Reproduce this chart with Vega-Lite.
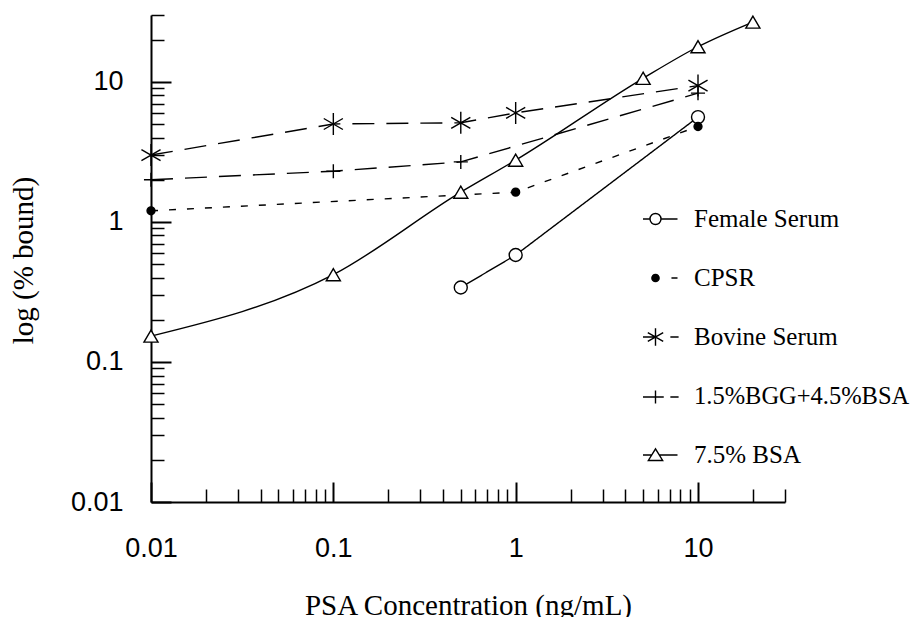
{
  "$schema": "https://vega.github.io/schema/vega-lite/v6.json",
  "width": 634,
  "height": 487,
  "autosize": {"type": "none"},
  "padding": {"left": 151, "top": 15, "right": 129, "bottom": 115},
  "background": "white",
  "config": {"view": {"stroke": null}},
  "data": {
    "values": [
      {"series": "Female Serum", "x": 0.5, "y": 0.34},
      {"series": "Female Serum", "x": 1, "y": 0.58},
      {"series": "Female Serum", "x": 10, "y": 5.6},
      {"series": "CPSR", "x": 0.01, "y": 1.2},
      {"series": "CPSR", "x": 1, "y": 1.63},
      {"series": "CPSR", "x": 10, "y": 4.8},
      {"series": "Bovine Serum", "x": 0.01, "y": 3.0},
      {"series": "Bovine Serum", "x": 0.1, "y": 5.0},
      {"series": "Bovine Serum", "x": 0.5, "y": 5.1},
      {"series": "Bovine Serum", "x": 1, "y": 6.0},
      {"series": "Bovine Serum", "x": 10, "y": 9.4},
      {"series": "1.5%BGG+4.5%BSA", "x": 0.01, "y": 2.0},
      {"series": "1.5%BGG+4.5%BSA", "x": 0.1, "y": 2.3},
      {"series": "1.5%BGG+4.5%BSA", "x": 0.5, "y": 2.68},
      {"series": "1.5%BGG+4.5%BSA", "x": 10, "y": 8.3},
      {"series": "7.5% BSA", "x": 0.01, "y": 0.153},
      {"series": "7.5% BSA", "x": 0.1, "y": 0.42},
      {"series": "7.5% BSA", "x": 0.5, "y": 1.63},
      {"series": "7.5% BSA", "x": 1, "y": 2.76},
      {"series": "7.5% BSA", "x": 5, "y": 10.6},
      {"series": "7.5% BSA", "x": 10, "y": 17.8},
      {"series": "7.5% BSA", "x": 20, "y": 26.7}
    ]
  },
  "layer": [
    {
      "transform": [{"filter": "datum.series !== '7.5% BSA'"}],
      "mark": {"type": "line", "interpolate": "linear", "strokeWidth": 1.4, "color": "black"},
      "encoding": {
        "x": {
          "field": "x", "type": "quantitative",
          "scale": {"type": "log", "domain": [0.01, 30], "nice": false},
          "axis": {
            "orient": "bottom",
            "values": [0.01, 0.1, 1, 10], "format": "~g", "grid": false,
            "domain": true, "domainColor": "black", "domainWidth": 2,
            "ticks": true, "tickSize": -20, "tickWidth": 2, "tickColor": "black",
            "labelFont": "Liberation Sans", "labelFontSize": 27, "labelColor": "black",
            "labelPadding": 53, "labelFlush": false, "labelBaseline": "top",
            "title": "PSA Concentration (ng/mL)",
            "titleFont": "Liberation Serif", "titleFontSize": 29, "titleFontWeight": "normal",
            "titleColor": "black", "titleBaseline": "alphabetic", "titleY": 112
          }
        },
        "y": {
          "field": "y", "type": "quantitative",
          "scale": {"type": "log", "domain": [0.01, 30], "nice": false},
          "axis": {
            "orient": "left",
            "values": [0.01, 0.1, 1, 10], "format": "~g", "grid": false,
            "domain": true, "domainColor": "black", "domainWidth": 2,
            "ticks": true, "tickSize": -20, "tickWidth": 2, "tickColor": "black",
            "labelFont": "Liberation Sans", "labelFontSize": 27, "labelColor": "black",
            "labelPadding": 48, "labelFlush": false,
            "title": "log (% bound)",
            "titleFont": "Liberation Serif", "titleFontSize": 29, "titleFontWeight": "normal",
            "titleColor": "black", "titleBaseline": "alphabetic", "titleAlign": "center",
            "titleAngle": 270, "titleX": -119, "titleY": 245
          }
        },
        "strokeDash": {
          "field": "series", "type": "nominal",
          "scale": {
            "domain": ["Female Serum", "CPSR", "Bovine Serum", "1.5%BGG+4.5%BSA"],
            "range": [[1, 0], [7, 11], [22, 12], [22, 12]]
          },
          "legend": null
        }
      }
    },
    {
      "transform": [{"filter": "datum.series === '7.5% BSA'"}],
      "mark": {"type": "line", "interpolate": "monotone", "strokeWidth": 1.4, "color": "black"},
      "encoding": {
        "x": {"field": "x", "type": "quantitative", "scale": {"type": "log", "domain": [0.01, 30], "nice": false}, "axis": null},
        "y": {"field": "y", "type": "quantitative", "scale": {"type": "log", "domain": [0.01, 30], "nice": false}, "axis": null}
      }
    },
    {
      "mark": {"type": "point", "filled": true, "stroke": "black", "strokeWidth": 1.4, "opacity": 1, "size": 484},
      "encoding": {
        "x": {
          "field": "x", "type": "quantitative",
          "scale": {"type": "log", "domain": [0.01, 30], "nice": false},
          "axis": {
            "orient": "bottom",
            "values": [0.02, 0.03, 0.04, 0.05, 0.06, 0.07, 0.08, 0.09, 0.2, 0.3, 0.4, 0.5, 0.6, 0.7, 0.8, 0.9, 2, 3, 4, 5, 6, 7, 8, 9, 20, 30],
            "labels": false, "domain": false, "grid": false,
            "ticks": true, "tickSize": -13, "tickWidth": 1.5, "tickColor": "black",
            "title": null
          }
        },
        "y": {
          "field": "y", "type": "quantitative",
          "scale": {"type": "log", "domain": [0.01, 30], "nice": false},
          "axis": {
            "orient": "left",
            "values": [0.02, 0.03, 0.04, 0.05, 0.06, 0.07, 0.08, 0.09, 0.2, 0.3, 0.4, 0.5, 0.6, 0.7, 0.8, 0.9, 2, 3, 4, 5, 6, 7, 8, 9, 20, 30],
            "labels": false, "domain": false, "grid": false,
            "ticks": true, "tickSize": -13, "tickWidth": 1.5, "tickColor": "black",
            "title": null
          }
        },
        "shape": {
          "field": "series", "type": "nominal",
          "scale": {
            "domain": ["7.5% BSA", "Female Serum", "CPSR", "Bovine Serum", "1.5%BGG+4.5%BSA"],
            "range": [
              "M0,-0.55L-0.64,0.55L0.64,0.55Z",
              "M-0.59,0A0.59,0.59 0 1,1 0.59,0A0.59,0.59 0 1,1 -0.59,0Z",
              "M-0.36,0A0.36,0.36 0 1,1 0.36,0A0.36,0.36 0 1,1 -0.36,0Z",
              "M0,-1V1M-0.87,-0.5L0.87,0.5M-0.87,0.5L0.87,-0.5",
              "M-0.64,0H0.64M0,-0.64V0.64"
            ]
          },
          "legend": null
        },
        "fill": {
          "field": "series", "type": "nominal",
          "scale": {
            "domain": ["CPSR", "Female Serum", "Bovine Serum", "1.5%BGG+4.5%BSA", "7.5% BSA"],
            "range": ["black", "white", "white", "white", "white"]
          },
          "legend": null
        }
      }
    },
    {
      "mark": {"type": "point", "filled": false, "color": "black", "strokeWidth": 1.4, "opacity": 0, "size": 484},
      "encoding": {
        "x": {"field": "x", "type": "quantitative", "scale": {"type": "log", "domain": [0.01, 30], "nice": false}, "axis": null},
        "y": {"field": "y", "type": "quantitative", "scale": {"type": "log", "domain": [0.01, 30], "nice": false}, "axis": null},
        "shape": {
          "field": "series", "type": "nominal",
          "scale": {
            "domain": ["Female Serum", "CPSR", "Bovine Serum", "1.5%BGG+4.5%BSA", "7.5% BSA"],
            "range": [
              "M-2,0H-0.5M0.5,0H2M-0.5,0A0.5,0.5 0 1,1 0.5,0A0.5,0.5 0 1,1 -0.5,0Z",
              "M-2,0H-1.55M1.45,0H2M-0.33,0A0.33,0.33 0 1,1 0.33,0A0.33,0.33 0 1,1 -0.33,0Z",
              "M-2,0H0M1.35,0H2.1M0,-0.8V0.8M-0.7,-0.4L0.7,0.4M-0.7,0.4L0.7,-0.4",
              "M-2,0H0.75M1.35,0H2.1M0,-0.6V0.6",
              "M-2,0H-0.32M0.32,0H2M0,-0.55L-0.65,0.5L0.65,0.5Z"
            ]
          },
          "legend": {
            "orient": "none", "legendX": 492, "legendY": 193,
            "title": null, "padding": 0,
            "symbolSize": 484, "symbolStrokeWidth": 1.4, "symbolStrokeColor": "black",
            "symbolFillColor": "white",
            "symbolOpacity": 1,
            "clipHeight": 22, "rowPadding": 34, "labelOffset": 26,
            "labelFont": "Liberation Serif",
            "labelFontSize": {"expr": "datum.value === '1.5%BGG+4.5%BSA' ? 24.5 : 25"},
            "labelColor": "black",
            "labelLimit": 400
          }
        },
        "fill": {
          "field": "series", "type": "nominal",
          "scale": {
            "domain": ["Female Serum", "CPSR", "Bovine Serum", "1.5%BGG+4.5%BSA", "7.5% BSA"],
            "range": ["white", "black", "white", "white", "white"]
          },
          "legend": {"title": null, "orient": "none"}
        }
      }
    }
  ],
  "resolve": {
    "axis": {"x": "independent", "y": "independent"},
    "scale": {"shape": "independent", "fill": "independent"}
  }
}
